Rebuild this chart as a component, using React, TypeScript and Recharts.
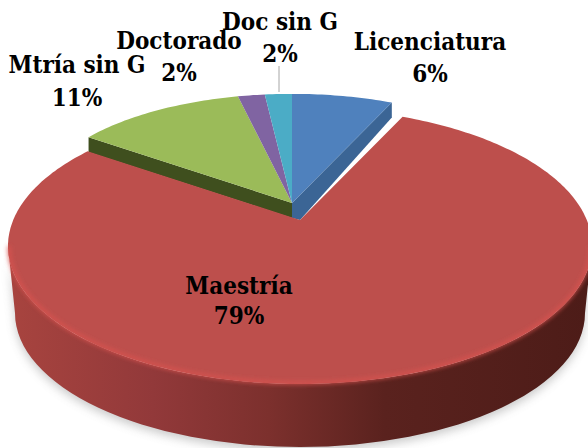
import React from 'react';
import { PieChart, Pie } from 'recharts';

const categories = ['Licenciatura', 'Maestría', 'Mtría sin G', 'Doctorado', 'Doc sin G'];
const shares = [6.4, 78.9, 11.3, 1.7, 1.7];

const FACE_COLORS = ['#4f81bd', '#bd4f4c', '#9bbb59', '#8064a2', '#4bacc6'];
const WALL_COLORS = ['#3b6595', '#7c2f2c', '#3f4f1e', '#5f4a7c', '#35849a'];

// centre x, first baseline, second baseline
const LABEL_SPOTS: Record<string, number[]> = {
  Licenciatura: [430, 50, 82],
  'Maestría': [239, 294, 324],
  'Mtría sin G': [77, 73, 106],
  Doctorado: [179, 49, 81],
  'Doc sin G': [280, 30, 62],
};

const data = categories.map((name, i) => ({ name, value: shares[i] }));

const SMALL_DEPTH = 15;
const RED_DEPTH = 67;
const FLATTEN = 0.428;
const RED_RIM_DROP = 26;
const RED_RY = 138;

type Rim = { ax: number; ay: number; rx: number; ry: number; drop: number };

// follows the slice's direction from its apex out to the tilted rim
const rimPoint = (angle: number, rim: Rim) => {
  const t = ((90 - angle) * Math.PI) / 180;
  const dx = Math.sin(t);
  const dy = -Math.cos(t) * FLATTEN;
  const oy = -rim.drop;
  const a = (dx / rim.rx) ** 2 + (dy / rim.ry) ** 2;
  const b = (2 * oy * dy) / rim.ry ** 2;
  const c = (oy / rim.ry) ** 2 - 1;
  const s = (-b + Math.sqrt(b * b - 4 * a * c)) / (2 * a);
  return [rim.ax + s * dx, rim.ay + s * dy];
};

const facePath = (start: number, end: number, rim: Rim) => {
  const steps = Math.max(2, Math.ceil(Math.abs(end - start)));
  const pts = [];
  for (let i = 0; i <= steps; i++) {
    const p = rimPoint(start + ((end - start) * i) / steps, rim);
    pts.push(`${p[0].toFixed(1)} ${p[1].toFixed(1)}`);
  }
  return `M${rim.ax} ${rim.ay}L${pts.join('L')}Z`;
};

const SmallSlice = (props: any) => {
  const { cx, cy, outerRadius, startAngle, endAngle, index, name } = props;
  if (name === 'Maestría') return <g />;
  const rim = { ax: cx, ay: cy, rx: outerRadius, ry: outerRadius * FLATTEN, drop: 0 };
  // only the two cut faces next to the pulled out slice can be seen
  const wallAngle = name === 'Licenciatura' ? endAngle : name === 'Mtría sin G' ? startAngle : null;
  let wall = null;
  if (wallAngle !== null) {
    const p = rimPoint(wallAngle, rim);
    const foot = name === 'Licenciatura' ? `L${cx + 8} ${cy + SMALL_DEPTH + 2}` : '';
    wall = (
      <path
        d={`M${cx} ${cy}L${p[0]} ${p[1]}L${p[0]} ${p[1] + SMALL_DEPTH}${foot}L${cx} ${cy + SMALL_DEPTH}Z`}
        fill={WALL_COLORS[index]}
      />
    );
  }
  return (
    <g>
      {wall}
      <path d={facePath(startAngle, endAngle, rim)} fill={FACE_COLORS[index]} />
    </g>
  );
};

const RedSlice = (props: any) => {
  const { cx, cy, outerRadius, startAngle, endAngle, index, name } = props;
  if (name !== 'Maestría') return <g />;
  const rim = { ax: cx, ay: cy, rx: outerRadius, ry: RED_RY, drop: RED_RIM_DROP };
  const midY = cy + RED_RIM_DROP;
  const rx = outerRadius;
  const lowRx = rx - 7;
  const lowRy = RED_RY - 4;
  const wallPath =
    `M${cx - rx} ${midY}A${rx} ${RED_RY} 0 0 0 ${cx + rx} ${midY}` +
    `L${cx + lowRx} ${midY + RED_DEPTH}A${lowRx} ${lowRy} 0 0 1 ${cx - lowRx} ${midY + RED_DEPTH}Z`;
  return (
    <g>
      <defs>
        <linearGradient id="redWall" gradientUnits="userSpaceOnUse" x1="8" y1="0" x2="588" y2="0">
          <stop offset="0%" stopColor="#a8443f" />
          <stop offset="25%" stopColor="#92393a" />
          <stop offset="45%" stopColor="#7c302d" />
          <stop offset="65%" stopColor="#5a221e" />
          <stop offset="100%" stopColor="#4d1c18" />
        </linearGradient>
        <filter id="softShadow" x="-10%" y="-10%" width="120%" height="130%">
          <feGaussianBlur stdDeviation="5" />
        </filter>
        <filter id="softRim" x="-5%" y="-5%" width="110%" height="110%">
          <feGaussianBlur stdDeviation="2" />
        </filter>
      </defs>
      <path d={wallPath} fill="#8a8a8a" opacity={0.45} filter="url(#softShadow)" transform="translate(0 4)" />
      <path d={wallPath} fill="url(#redWall)" />
      <path d={facePath(startAngle, endAngle, rim)} fill={FACE_COLORS[index]} />
      <path
        d={`M${cx - rx + 1} ${midY}A${rx - 1} ${RED_RY - 1} 0 0 0 ${cx + rx - 1} ${midY}`}
        fill="none"
        stroke="#d9534f"
        strokeWidth={3}
        filter="url(#softRim)"
      />
    </g>
  );
};

const renderLabel = (props: any) => {
  const { name, value } = props;
  const spot = LABEL_SPOTS[name];
  const text = {
    textAnchor: 'middle' as const,
    fontFamily: '"DejaVu Serif Condensed", "DejaVu Serif", serif',
    fontWeight: 700,
    fontSize: 24,
    fill: '#000',
  };
  return (
    <g key={name}>
      {name === 'Doc sin G' && <line x1={279} y1={66} x2={279} y2={92} stroke="#a6a6a6" strokeWidth={1} />}
      <text x={spot[0]} y={spot[1]} {...text}>{name}</text>
      <text x={spot[0]} y={spot[2]} {...text}>{`${Math.round(value)}%`}</text>
    </g>
  );
};

const App = () => (
  <div style={{ position: 'absolute', left: 0, top: 0, width: 588, height: 448, overflow: 'hidden', background: '#fff' }}>
    <PieChart width={588} height={448} margin={{ top: 0, right: 0, bottom: 0, left: 0 }}>
      <Pie
        data={data}
        dataKey="value"
        nameKey="name"
        cx={292}
        cy={203}
        outerRadius={255}
        startAngle={90}
        endAngle={-270}
        stroke="none"
        shape={SmallSlice}
        isAnimationActive={false}
      />
      <Pie
        data={data}
        dataKey="value"
        nameKey="name"
        cx={300}
        cy={220}
        outerRadius={292}
        startAngle={90}
        endAngle={-270}
        stroke="none"
        shape={RedSlice}
        label={renderLabel}
        labelLine={false}
        isAnimationActive={false}
      />
    </PieChart>
  </div>
);

export default App;
